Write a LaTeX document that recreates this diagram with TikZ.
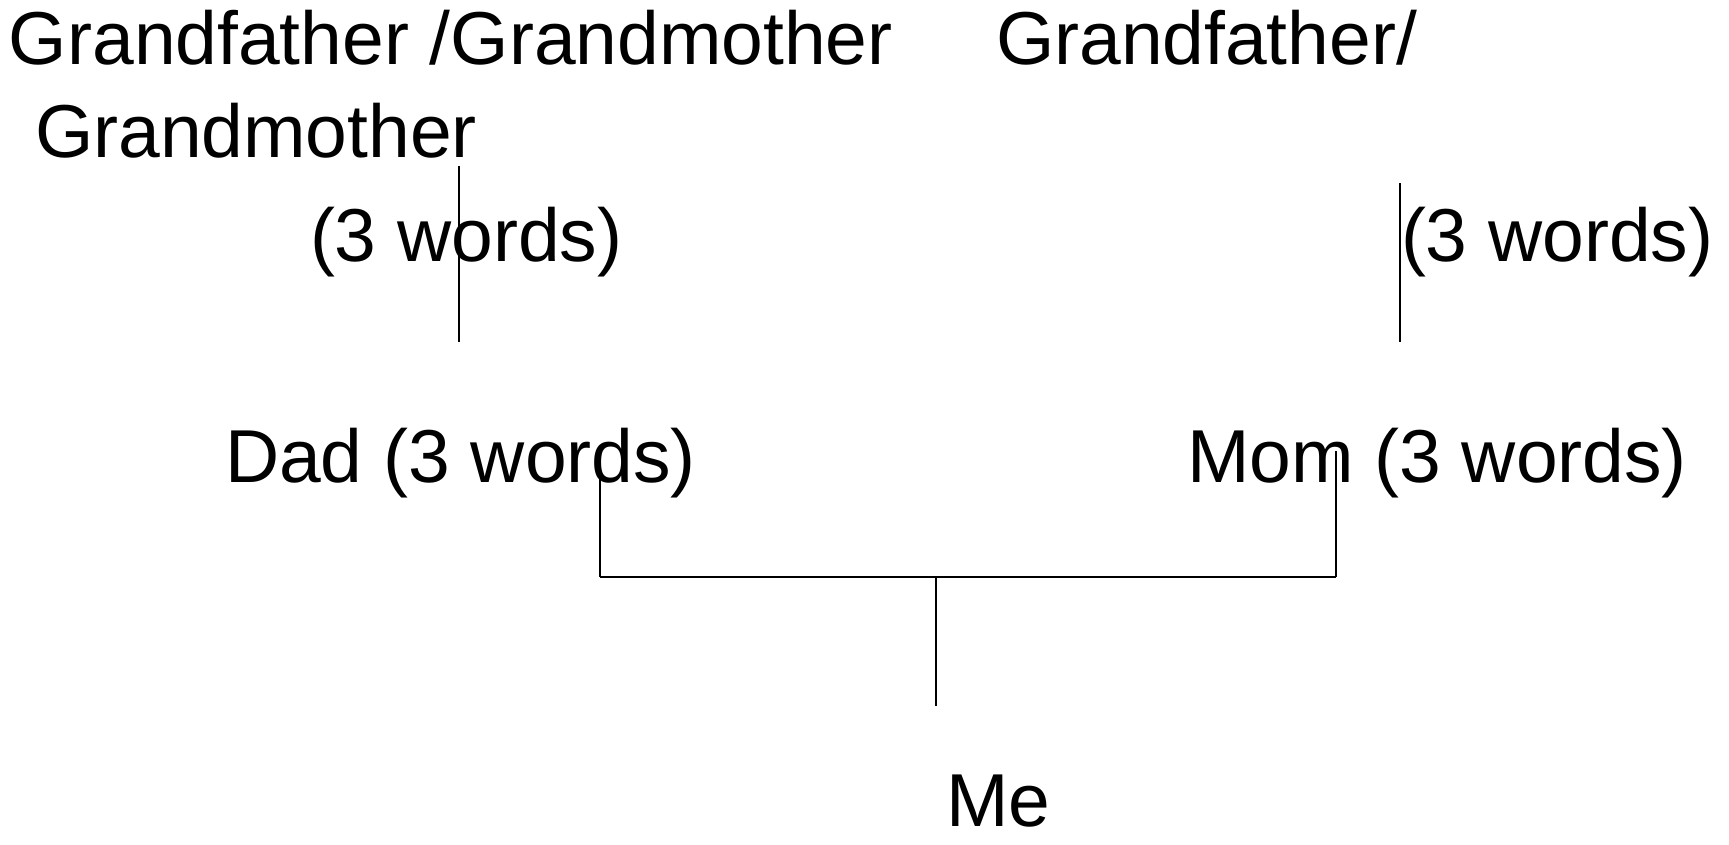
\documentclass[tikz,border=0pt]{standalone}
\usepackage{fontspec}
\setmainfont{Liberation Sans}
\begin{document}
\begin{tikzpicture}[x=1pt,y=-1pt,
  lbl/.style={anchor=base west,inner sep=0pt,outer sep=0pt,font=\fontsize{75}{80}\selectfont},
  thin line/.style={line width=1.5pt,black},
  bar line/.style={line width=2.2pt,black}]
\useasboundingbox[fill=white] (0,0) rectangle (1729,844);
% labels
\node[lbl] (gp1) at (9,64) {Grandfather /Grandmother};
\node[lbl] (gp2) at (996,64) {Grandfather/};
\node[lbl] (gm1) at (35,157) {Grandmother};
\node[lbl] (w1) at (310,261) {(3 words)};
\node[lbl] (w2) at (1401,261) {(3 words)};
\node[lbl] (dad) at (225,482) {Dad (3 words)};
\node[lbl] (mom) at (1187,482) {Mom (3 words)};
\node[lbl] (me) at (946,826) {Me};
% free line ends
\coordinate (l1t) at (459,166);
\coordinate (l1b) at (459,342);
\coordinate (l2t) at (1400,183);
\coordinate (l2b) at (1400,342);
\coordinate (dadc) at (600,479);
\coordinate (momc) at (1336,451);
\coordinate (dadj) at (600,577);
\coordinate (momj) at (1336,577);
\coordinate (mid) at (936,577);
\coordinate (mec) at (936,706);
% connectors
\draw[thin line] (l1t) -- (l1b);
\draw[thin line] (l2t) -- (l2b);
\draw[thin line] (dadc) -- (dadj);
\draw[thin line] (momc) -- (momj);
\draw[bar line] (dadj) -- (momj);
\draw[thin line] (mid) -- (mec);
\end{tikzpicture}
\end{document}
